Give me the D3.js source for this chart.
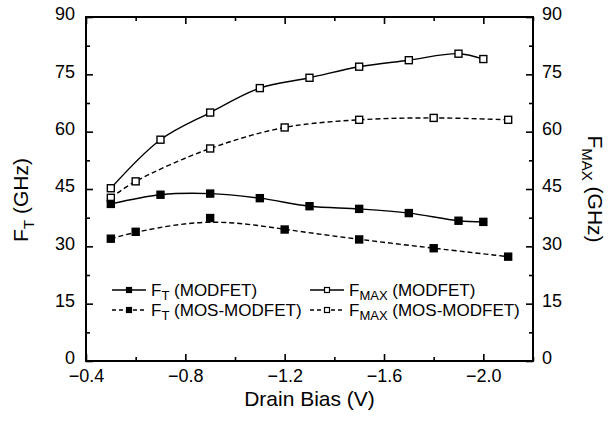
<!DOCTYPE html>
<html>
<head>
<meta charset="utf-8">
<script src="https://cdn.jsdelivr.net/npm/d3@7"></script>
<style>
  body { margin: 0; background: #fff; }
  text { font-family: "Liberation Sans", Arial, sans-serif; fill: #000; }
</style>
</head>
<body>
<div id="chart"></div>
<script>
// data (drain bias in V, frequency in GHz)
var ftModBias = [-0.5, -0.7, -0.9, -1.1, -1.3, -1.5, -1.7, -1.9, -2.0];
var ftMod = [41.1, 43.5, 43.8, 42.6, 40.5, 39.8, 38.7, 36.7, 36.4];

var fmaxModBias = [-0.5, -0.7, -0.9, -1.1, -1.3, -1.5, -1.7, -1.9, -2.0];
var fmaxMod = [45.2, 57.9, 65.0, 71.4, 74.1, 77.0, 78.7, 80.4, 79.0];

var ftMosBias = [-0.5, -0.6, -0.9, -1.2, -1.5, -1.8, -2.1];
var ftMos = [32.0, 33.8, 37.4, 34.4, 31.8, 29.5, 27.3];

var fmaxMosBias = [-0.5, -0.6, -0.9, -1.2, -1.5, -1.8, -2.1];
var fmaxMos = [42.7, 47.0, 55.6, 61.1, 63.1, 63.6, 63.1];

var xTicks = [-0.4, -0.8, -1.2, -1.6, -2.0];
var yTicks = [0, 15, 30, 45, 60, 75, 90];

var W = 608, H = 424;
var margin = {top: 17, right: 75, bottom: 63, left: 86};
var width = W - margin.left - margin.right;
var height = H - margin.top - margin.bottom;

var svg = d3.select("#chart").append("svg")
  .attr("width", W).attr("height", H);

var g = svg.append("g")
  .attr("transform", "translate(" + margin.left + "," + margin.top + ")");

var x = d3.scaleLinear().domain([-0.4, -2.2]).range([0, width]);
var y = d3.scaleLinear().domain([0, 90]).range([height, 0]);

// minor ticks
var xMinor = d3.range(-0.6, -2.21, -0.4);
var yMinor = d3.range(7.5, 90, 15);

// bottom axis
g.append("g").attr("transform", "translate(0," + height + ")")
  .call(d3.axisBottom(x).tickValues(xTicks).tickSize(-7).tickPadding(8)
    .tickFormat(d3.format(".1f")));
g.append("g").attr("transform", "translate(0," + height + ")")
  .call(d3.axisBottom(x).tickValues(xMinor).tickSize(-4).tickFormat(""));

// top axis (ticks only)
g.append("g").call(d3.axisTop(x).tickValues(xTicks).tickSize(-7).tickFormat(""));
g.append("g").call(d3.axisTop(x).tickValues(xMinor).tickSize(-4).tickFormat(""));

// left axis
var yl = g.append("g").call(d3.axisLeft(y).tickValues(yTicks).tickSize(-7).tickPadding(11).tickFormat(d3.format("d")));
g.append("g").call(d3.axisLeft(y).tickValues(yMinor).tickSize(-4).tickFormat(""));

// right axis
var yr = g.append("g").attr("transform", "translate(" + width + ",0)")
  .call(d3.axisRight(y).tickValues(yTicks).tickSize(-7).tickPadding(9).tickFormat(d3.format("d")));
g.append("g").attr("transform", "translate(" + width + ",0)")
  .call(d3.axisRight(y).tickValues(yMinor).tickSize(-4).tickFormat(""));

g.selectAll(".domain").remove();
g.selectAll(".tick line").attr("stroke", "#000").attr("stroke-width", 1.6);
g.selectAll(".tick text").style("font-size", "18px").attr("fill", "#000")
  .style("font-family", "'Liberation Sans', Arial, sans-serif");
// y labels sit a little above their ticks in the original
yl.selectAll(".tick text").attr("dy", "0.16em");
yr.selectAll(".tick text").attr("dy", "0.16em");

// frame
g.append("rect").attr("width", width).attr("height", height)
  .attr("fill", "none").attr("stroke", "#000").attr("stroke-width", 2);

// series
var series = [
  {xs: fmaxModBias, ys: fmaxMod, dash: null, filled: false, curve: d3.curveCatmullRom},
  {xs: fmaxMosBias, ys: fmaxMos, dash: "5,3", filled: false, curve: d3.curveCatmullRom},
  {xs: ftModBias, ys: ftMod, dash: null, filled: true, curve: d3.curveCatmullRom},
  {xs: ftMosBias, ys: ftMos, dash: "5,3", filled: true, curve: d3.curveBasis}
];

series.forEach(function(s) {
  var pts = s.xs.map(function(v, i) { return [v, s.ys[i]]; });
  var line = d3.line()
    .x(function(d) { return x(d[0]); })
    .y(function(d) { return y(d[1]); })
    .curve(s.curve);
  g.append("path").datum(pts)
    .attr("d", line)
    .attr("fill", "none")
    .attr("stroke", "#000")
    .attr("stroke-width", 1.4)
    .attr("stroke-dasharray", s.dash);
  g.append("g").selectAll("rect").data(pts).enter().append("rect")
    .attr("x", function(d) { return x(d[0]) - 3.5; })
    .attr("y", function(d) { return y(d[1]) - 3.5; })
    .attr("width", 7).attr("height", 7)
    .attr("fill", s.filled ? "#000" : "#fff")
    .attr("stroke", "#000").attr("stroke-width", 1.4);
});

// legend
var legendItems = [
  {col: 0, row: 0, dash: null, filled: true, main: "F", sub: "T", rest: " (MODFET)"},
  {col: 1, row: 0, dash: null, filled: false, main: "F", sub: "MAX", rest: " (MODFET)"},
  {col: 0, row: 1, dash: "4,3", filled: true, main: "F", sub: "T", rest: " (MOS-MODFET)"},
  {col: 1, row: 1, dash: "4,3", filled: false, main: "F", sub: "MAX", rest: " (MOS-MODFET)"}
];
var legX = [112, 310];
var legY = [290, 310];

var leg = svg.append("g");
legendItems.forEach(function(it) {
  var lx = legX[it.col], ly = legY[it.row];
  leg.append("line")
    .attr("x1", lx).attr("x2", lx + 34).attr("y1", ly).attr("y2", ly)
    .attr("stroke", "#000").attr("stroke-width", 1.4)
    .attr("stroke-dasharray", it.dash);
  leg.append("rect")
    .attr("x", lx + 17 - 2.5).attr("y", ly - 2.5).attr("width", 5).attr("height", 5)
    .attr("fill", it.filled ? "#000" : "#fff")
    .attr("stroke", "#000").attr("stroke-width", 1.2);
  var t = leg.append("text").attr("x", lx + 39).attr("y", ly + 6).style("font-size", "17px");
  t.append("tspan").text(it.main);
  t.append("tspan").attr("dy", 4).style("font-size", "13px").text(it.sub);
  t.append("tspan").attr("dy", -4).text(it.rest);
});

// axis titles
svg.append("text")
  .attr("x", margin.left + width / 2).attr("y", 406)
  .attr("text-anchor", "middle").style("font-size", "21px")
  .text("Drain Bias (V)");

var lt = svg.append("text")
  .attr("transform", "translate(28,200) rotate(-90)")
  .attr("text-anchor", "middle").style("font-size", "21px");
lt.append("tspan").text("F");
lt.append("tspan").attr("dy", 6).style("font-size", "15px").text("T");
lt.append("tspan").attr("dy", -6).text(" (GHz)");

var rt = svg.append("text")
  .attr("transform", "translate(588,189) rotate(90)")
  .attr("text-anchor", "middle").style("font-size", "21px");
rt.append("tspan").text("F");
rt.append("tspan").attr("dy", 6).style("font-size", "15px").text("MAX");
rt.append("tspan").attr("dy", -6).text(" (GHz)");
</script>
</body>
</html>
